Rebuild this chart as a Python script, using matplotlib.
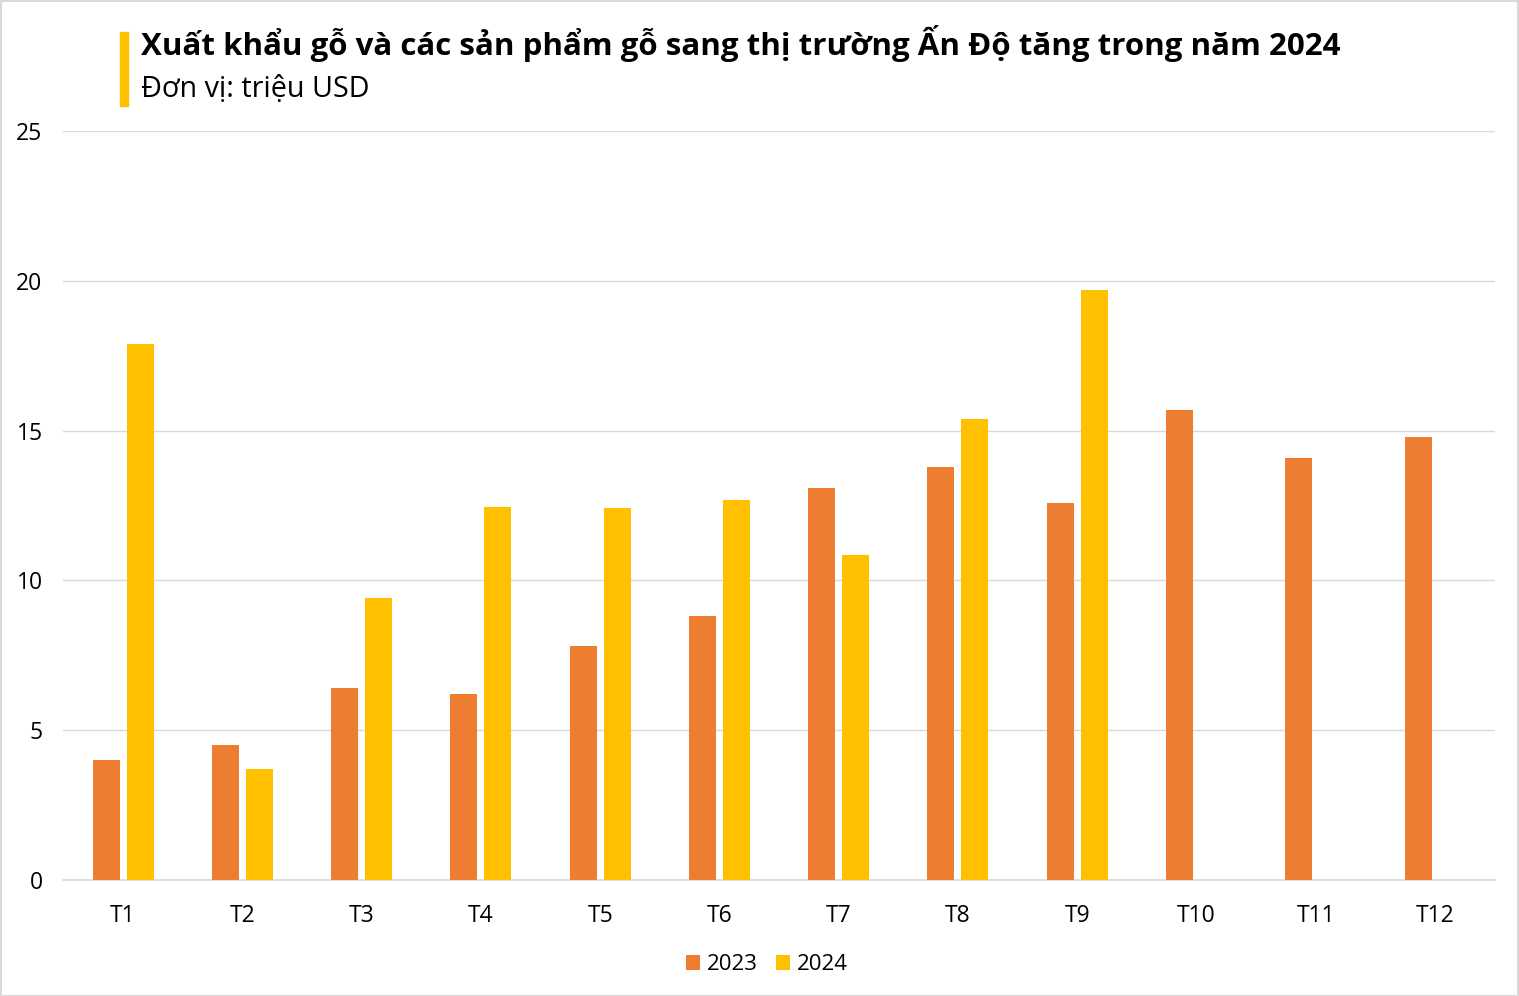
import matplotlib
matplotlib.use("Agg")
import matplotlib.pyplot as plt
import numpy as np
from matplotlib.patches import Rectangle

plt.rcParams['font.family'] = ['Open Sans', 'DejaVu Sans']

months = ['T1', 'T2', 'T3', 'T4', 'T5', 'T6', 'T7', 'T8', 'T9', 'T10', 'T11', 'T12']
v2023 = [4.0, 4.5, 6.4, 6.2, 7.8, 8.8, 13.1, 13.8, 12.6, 15.7, 14.1, 14.8]
v2024 = [17.9, 3.7, 9.4, 12.45, 12.4, 12.7, 10.85, 15.4, 19.7]
yticks = [0, 5, 10, 15, 20, 25]
title = 'Xuất khẩu gỗ và các sản phẩm gỗ sang thị trường Ấn Độ tăng trong năm 2024'
subtitle = 'Đơn vị: triệu USD'

W, H = 1519, 996
fig = plt.figure(figsize=(W / 100, H / 100), dpi=100)
ax = fig.add_axes([63.4 / W, 1 - 880 / H, (1494.7 - 63.4) / W, (880 - 131) / H])

x = np.arange(len(months))
bw = 0.226
off = 0.1425
ax.bar(x - off, v2023, bw, color='#ED7D31', label='2023', zorder=3)
ax.bar(np.arange(len(v2024)) + off, v2024, bw, color='#FFC000', label='2024', zorder=3)

ax.set_xlim(-0.5, len(months) - 0.5)
ax.set_ylim(0, 25)
ax.set_yticks(yticks)
ax.set_xticks(x)
ax.set_xticklabels(months)
ax.tick_params(axis='both', length=0, labelsize=16.5, colors='#000000')
ax.tick_params(axis='y', pad=15)
ax.tick_params(axis='x', pad=17)
ax.yaxis.grid(True, color='#D9D9D9', linewidth=1, zorder=0)
for s in ['top', 'right', 'left']:
    ax.spines[s].set_visible(False)
ax.spines['bottom'].set_color('#D9D9D9')
ax.spines['bottom'].set_linewidth(1.2)

leg = ax.legend(loc='upper center', bbox_to_anchor=(0.4915, -0.072), ncol=2, frameon=False,
                fontsize=16, handlelength=0.65, handleheight=0.65, handletextpad=0.3,
                columnspacing=0.8)

fig.patches.append(Rectangle((120 / W, 1 - 106 / H), 8 / W, 74 / H, transform=fig.transFigure,
                             color='#FFC000', zorder=5))
fig.patches.append(Rectangle((0.5 / W, 0.5 / H), (W - 2) / W, (H - 2) / H, transform=fig.transFigure,
                             fill=False, edgecolor='#D9D9D9', linewidth=1.5))
fig.text(141 / W, 1 - 44 / H, title, fontsize=22.5, fontweight='bold', va='center', ha='left')
fig.text(141 / W, 1 - 90 / H, subtitle, fontsize=20.7, va='center', ha='left')

fig.savefig('out.png', dpi=100, facecolor='white')
